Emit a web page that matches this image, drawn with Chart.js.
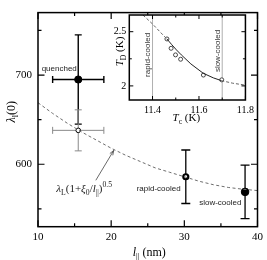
<!DOCTYPE html>
<html><head><meta charset="utf-8">
<script src="https://cdn.jsdelivr.net/npm/chart.js@4.4.1/dist/chart.umd.min.js"></script>
<style>
html,body{margin:0;padding:0;background:#fff;}
#wrap{position:relative;width:267px;height:260px;overflow:hidden;}
#main{position:absolute;left:0;top:0;}
#inset{position:absolute;left:100px;top:5px;}
</style></head><body>
<div id="wrap">
<canvas id="main" width="267" height="260"></canvas>
<canvas id="inset" width="158" height="125"></canvas>
</div>
<script>
// ---------- main chart data ----------
const sampleNames = ['quenched', 'quenched (open)', 'rapid-cooled', 'slow-cooled'];
const sampleL = [15.5, 15.5, 30.2, 38.3];
const sampleLambda = [695, 638, 586, 569];
const sampleLErr = [3.5, 3.5, 0, 0];
const sampleLambdaErr = [50, 23, 30, 30];

const curveL = [10, 12, 14, 16, 18, 20, 22, 24, 26, 28, 30, 32, 34, 36, 38, 40];
const curveLambda = [669, 657, 646, 636, 627, 618, 610, 603, 596, 591, 586, 581, 577, 574, 572, 570.5];

const xMajorTicks = [10, 20, 30, 40];
const xMinorTicks = [15, 25, 35];
const yMajorTicks = [600, 700];
const yMinorTicks = [550, 650, 750];

// ---------- inset data ----------
const insetCurveTc = [11.3587, 11.400, 11.441, 11.462, 11.483, 11.503, 11.524, 11.565, 11.618, 11.662, 11.696, 11.745, 11.80];
const insetCurveTD = [2.654, 2.571, 2.479, 2.433, 2.380, 2.332, 2.286, 2.203, 2.117, 2.074, 2.049, 2.025, 2.007];
const insetTc = [11.462, 11.48, 11.499, 11.521, 11.619, 11.698];
const insetTD = [2.433, 2.347, 2.286, 2.246, 2.10, 2.056];
const markerTc = [11.4, 11.7];
const markerLabels = ['rapid-cooled', 'slow-cooled'];
const insetXMajor = [11.4, 11.6, 11.8];
const insetXMinor = [11.5, 11.7];
const insetYMajor = [2, 2.5];
const insetYMinor = [2.25];

// ---------- styles ----------
const SERIF = '"Liberation Serif", "Times New Roman", serif';
const SANS = '"Liberation Sans", Arial, sans-serif';
const errColor = ['#000', '#8a8a8a', '#000', '#000'];
const errWidth = [1.4, 1, 1.3, 1.3];
const errCap = [3.5, 3.5, 4.5, 4.5];
const pointStyles = [
  {pointRadius: 3.6, pointBackgroundColor: '#000', pointBorderColor: '#000', pointBorderWidth: 1},
  {pointRadius: 2.3, pointBackgroundColor: '#fff', pointBorderColor: '#000', pointBorderWidth: 1},
  {pointRadius: 2.5, pointBackgroundColor: '#fff', pointBorderColor: '#000', pointBorderWidth: 2.2},
  {pointRadius: 3.8, pointBackgroundColor: '#000', pointBorderColor: '#000', pointBorderWidth: 1}
];

function drawRich(ctx, x, y, parts, base, align) {
  const fonts = parts.map(p => {
    const s = (p.sub || p.sup) ? base * 0.7 : base;
    return (p.i ? 'italic ' : '') + s.toFixed(1) + 'px ' + SERIF;
  });
  let w = 0;
  parts.forEach((p, k) => { ctx.font = fonts[k]; w += ctx.measureText(p.t).width; });
  let cx = align === 'center' ? x - w / 2 : (align === 'right' ? x - w : x);
  ctx.textAlign = 'left'; ctx.textBaseline = 'alphabetic';
  parts.forEach((p, k) => {
    ctx.font = fonts[k];
    const dy = p.sub ? base * 0.28 : (p.sup ? -base * 0.42 : 0);
    ctx.fillText(p.t, cx, y + dy);
    cx += ctx.measureText(p.t).width;
  });
}

function drawFrame(chart, o) {
  const {ctx, chartArea: a, scales: {x, y}} = chart;
  ctx.save();
  ctx.strokeStyle = '#000';
  ctx.lineWidth = o.tlw;
  ctx.beginPath();
  const tx = (vals, len) => vals.forEach(v => {
    const p = x.getPixelForValue(v);
    ctx.moveTo(p, a.bottom); ctx.lineTo(p, a.bottom - len);
    ctx.moveTo(p, a.top); ctx.lineTo(p, a.top + len);
  });
  const ty = (vals, len) => vals.forEach(v => {
    const p = y.getPixelForValue(v);
    ctx.moveTo(a.left, p); ctx.lineTo(a.left + len, p);
    ctx.moveTo(a.right, p); ctx.lineTo(a.right - len, p);
  });
  tx(o.xMaj, o.maj); tx(o.xMin, o.min); ty(o.yMaj, o.maj); ty(o.yMin, o.min);
  ctx.stroke();
  ctx.lineWidth = o.lw;
  ctx.strokeRect(a.left, a.top, a.right - a.left, a.bottom - a.top);
  ctx.restore();
}

// ---------- main chart ----------
const mainPlugin = {
  id: 'mainDecor',
  beforeDatasetsDraw(chart) {
    const {ctx, scales: {x, y}} = chart;
    ctx.save();
    sampleL.forEach((L, i) => {
      const px = x.getPixelForValue(L), py = y.getPixelForValue(sampleLambda[i]);
      const yt = y.getPixelForValue(sampleLambda[i] + sampleLambdaErr[i]);
      const yb = y.getPixelForValue(sampleLambda[i] - sampleLambdaErr[i]);
      ctx.strokeStyle = errColor[i]; ctx.lineWidth = errWidth[i];
      const c = errCap[i];
      ctx.beginPath();
      ctx.moveTo(px, yt); ctx.lineTo(px, yb);
      ctx.moveTo(px - c, yt); ctx.lineTo(px + c, yt);
      ctx.moveTo(px - c, yb); ctx.lineTo(px + c, yb);
      if (sampleLErr[i] > 0) {
        const xl = x.getPixelForValue(L - sampleLErr[i]), xr = x.getPixelForValue(L + sampleLErr[i]);
        ctx.moveTo(xl, py); ctx.lineTo(xr, py);
        ctx.moveTo(xl, py - c); ctx.lineTo(xl, py + c);
        ctx.moveTo(xr, py - c); ctx.lineTo(xr, py + c);
      }
      ctx.stroke();
    });
    ctx.restore();
  },
  afterDraw(chart) {
    const {ctx, chartArea: a, scales: {x, y}} = chart;
    drawFrame(chart, {lw: 1.5, tlw: 1.2, maj: 6.5, min: 3.5,
      xMaj: xMajorTicks, xMin: xMinorTicks, yMaj: yMajorTicks, yMin: yMinorTicks});
    ctx.save();
    ctx.fillStyle = '#222';
    // sample labels
    ctx.font = '8px ' + SANS;
    ctx.textBaseline = 'alphabetic';
    ctx.textAlign = 'left';
    ctx.fillText(sampleNames[0], x.getPixelForValue(10.5), y.getPixelForValue(704));
    ctx.textAlign = 'right';
    ctx.fillText(sampleNames[2], x.getPixelForValue(29.5), y.getPixelForValue(570));
    ctx.fillText(sampleNames[3], x.getPixelForValue(37.8), y.getPixelForValue(554.5));
    // arrow
    const x0 = x.getPixelForValue(17.9), y0 = y.getPixelForValue(582);
    const x1 = x.getPixelForValue(20.35), y1 = y.getPixelForValue(615.5);
    ctx.strokeStyle = '#444'; ctx.lineWidth = 0.8;
    ctx.beginPath(); ctx.moveTo(x0, y0); ctx.lineTo(x1, y1); ctx.stroke();
    const ang = Math.atan2(y1 - y0, x1 - x0), hl = 5;
    ctx.beginPath();
    ctx.moveTo(x1 - hl * Math.cos(ang - 0.35), y1 - hl * Math.sin(ang - 0.35));
    ctx.lineTo(x1, y1);
    ctx.lineTo(x1 - hl * Math.cos(ang + 0.35), y1 - hl * Math.sin(ang + 0.35));
    ctx.stroke();
    // equation
    ctx.fillStyle = '#222';
    drawRich(ctx, x.getPixelForValue(12.5), y.getPixelForValue(569), [
      {t: 'λ', i: true}, {t: 'L', sub: true}, {t: '(1+'}, {t: 'ξ', i: true}, {t: '0', sub: true},
      {t: '/'}, {t: 'l', i: true}, {t: '||', sub: true}, {t: ')'}, {t: '0.5', sup: true}
    ], 11, 'left');
    // axis titles
    ctx.fillStyle = '#000';
    drawRich(ctx, (a.left + a.right) / 2 + 1.5, 256, [
      {t: 'l', i: true}, {t: '||', sub: true}, {t: ' (nm)'}
    ], 12, 'center');
    ctx.translate(11, (a.top + a.bottom) / 2 - 8);
    ctx.rotate(-Math.PI / 2);
    drawRich(ctx, 0, 4, [{t: 'λ', i: true}, {t: 'l', sub: true}, {t: '(0)'}], 12, 'center');
    ctx.restore();
  }
};

const mainDatasets = [{
  data: curveL.map((v, i) => ({x: v, y: curveLambda[i]})),
  showLine: true, borderColor: '#6e6e6e', borderWidth: 1, borderDash: [3, 2.5],
  pointRadius: 0, fill: false, tension: 0
}];
sampleL.forEach((v, i) => {
  mainDatasets.push(Object.assign({data: [{x: v, y: sampleLambda[i]}], showLine: false}, pointStyles[i]));
});

new Chart(document.getElementById('main'), {
  type: 'scatter',
  data: {datasets: mainDatasets},
  options: {
    responsive: false, animation: false, devicePixelRatio: 1,
    layout: {padding: {top: 2, right: 5, left: 0, bottom: 0}},
    plugins: {legend: {display: false}, tooltip: {enabled: false}},
    scales: {
      x: {
        type: 'linear', min: 10, max: 40,
        grid: {display: false, drawTicks: false}, border: {display: false},
        afterBuildTicks: s => { s.ticks = xMajorTicks.map(v => ({value: v})); },
        ticks: {font: {family: SERIF, size: 11}, color: '#000', padding: 4, maxRotation: 0, autoSkip: false, callback: v => String(v)},
        afterFit: s => { s.height = 33.3; }
      },
      y: {
        type: 'linear', min: 530, max: 770,
        grid: {display: false, drawTicks: false}, border: {display: false},
        afterBuildTicks: s => { s.ticks = yMajorTicks.map(v => ({value: v})); },
        ticks: {font: {family: SERIF, size: 11}, color: '#000', padding: 6, autoSkip: false, callback: v => String(v)},
        afterFit: s => { s.width = 38; }
      }
    }
  },
  plugins: [mainPlugin]
});

// ---------- inset chart ----------
const insetPlugin = {
  id: 'insetDecor',
  beforeDatasetsDraw(chart) {
    const {ctx, chartArea: a, scales: {x, y}} = chart;
    ctx.save();
    ctx.fillStyle = '#fff';
    ctx.fillRect(a.left, a.top, a.right - a.left, a.bottom - a.top);
    ctx.strokeStyle = '#9a9a9a'; ctx.lineWidth = 0.8;
    ctx.beginPath();
    markerTc.forEach(t => { const p = x.getPixelForValue(t); ctx.moveTo(p, a.top); ctx.lineTo(p, a.bottom); });
    ctx.stroke();
    ctx.fillStyle = '#333';
    ctx.font = '8px ' + SANS;
    ctx.textAlign = 'center'; ctx.textBaseline = 'middle';
    const labY = [2.286, 2.322];
    markerTc.forEach((t, k) => {
      ctx.save();
      ctx.translate(x.getPixelForValue(t) - 4.5, y.getPixelForValue(labY[k]));
      ctx.rotate(-Math.PI / 2);
      ctx.fillText(markerLabels[k], 0, 0);
      ctx.restore();
    });
    ctx.restore();
  },
  afterDraw(chart) {
    const {ctx, chartArea: a} = chart;
    drawFrame(chart, {lw: 1.5, tlw: 1, maj: 4, min: 2.5,
      xMaj: insetXMajor, xMin: insetXMinor, yMaj: insetYMajor, yMin: insetYMinor});
    ctx.save();
    ctx.fillStyle = '#000';
    drawRich(ctx, (a.left + a.right) / 2 - 1, a.bottom + 21, [
      {t: 'T', i: true}, {t: 'c', sub: true}, {t: ' (K)'}
    ], 11, 'center');
    ctx.translate(a.left - 10, (a.top + a.bottom) / 2 - 6);
    ctx.rotate(-Math.PI / 2);
    drawRich(ctx, 0, 4, [{t: 'T', i: true}, {t: 'D', sub: true}, {t: ' (K)'}], 11, 'center');
    ctx.restore();
  }
};

new Chart(document.getElementById('inset'), {
  type: 'scatter',
  data: {datasets: [
    {
      data: insetCurveTc.map((v, i) => ({x: v, y: insetCurveTD[i]})),
      showLine: true, borderColor: '#333', borderWidth: 1, pointRadius: 0, fill: false, tension: 0,
      segment: {
        borderDash: c => (c.p0.parsed.x < 11.46 || c.p1.parsed.x > 11.70) ? [3, 2] : [],
        borderColor: c => (c.p0.parsed.x < 11.46 || c.p1.parsed.x > 11.70) ? '#666' : '#222'
      }
    },
    {
      data: insetTc.map((v, i) => ({x: v, y: insetTD[i]})),
      showLine: false, pointRadius: 2, pointBackgroundColor: '#fff', pointBorderColor: '#333', pointBorderWidth: 0.9
    }
  ]},
  options: {
    responsive: false, animation: false, devicePixelRatio: 1,
    layout: {padding: {top: 10, right: 7.3, left: 0, bottom: 0}},
    plugins: {legend: {display: false}, tooltip: {enabled: false}},
    scales: {
      x: {
        type: 'linear', min: 11.3, max: 11.8,
        grid: {display: false, drawTicks: false}, border: {display: false},
        afterBuildTicks: s => { s.ticks = insetXMajor.map(v => ({value: v})); },
        ticks: {font: {family: SERIF, size: 10}, color: '#000', padding: 4, maxRotation: 0, autoSkip: false, callback: v => v.toFixed(1)},
        afterFit: s => { s.height = 30; }
      },
      y: {
        type: 'linear', min: 1.87, max: 2.654,
        grid: {display: false, drawTicks: false}, border: {display: false},
        afterBuildTicks: s => { s.ticks = insetYMajor.map(v => ({value: v})); },
        ticks: {font: {family: SERIF, size: 10}, color: '#000', padding: 3, autoSkip: false, callback: v => String(v)},
        afterFit: s => { s.width = 29.3; }
      }
    }
  },
  plugins: [insetPlugin]
});
</script>
</body></html>
